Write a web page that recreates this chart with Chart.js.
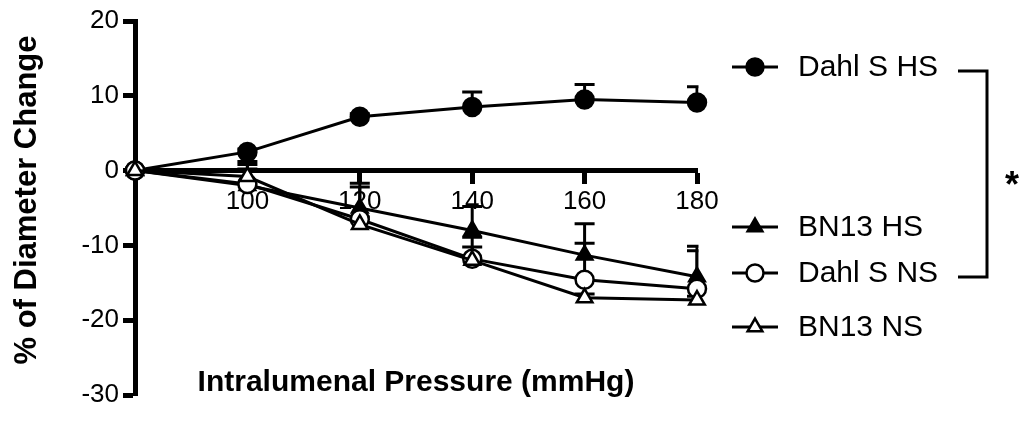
<!DOCTYPE html>
<html>
<head>
<meta charset="utf-8">
<script src="https://cdn.jsdelivr.net/npm/chart.js@4.4.1/dist/chart.umd.min.js"></script>
<style>
  html,body{margin:0;padding:0;background:#fff;}
  #wrap{width:1025px;height:422px;}
</style>
</head>
<body>
<div id="wrap"><canvas id="c" width="1025" height="422"></canvas></div>
<script>
// ---- data ----
const pressures   = [80, 100, 120, 140, 160, 180];
const xTickLabels = [100, 120, 140, 160, 180];
const yTickLabels = [-30, -20, -10, 0, 10, 20];
const seriesNames = ['Dahl S HS', 'BN13 HS', 'Dahl S NS', 'BN13 NS'];
const dahlSHS     = [0, 2.5, 7.2, 8.5, 9.5, 9.1];
const dahlSHSErr  = [0, 0.4, 0.4, 2.0, 2.0, 2.1];
const bn13HS      = [0, -2.0, -5.0, -8.0, -11.3, -14.2];
const bn13HSErr   = [0, 3.2, 2.8, 3.2, 4.2, 4.1];
const dahlSNS     = [0, -1.8, -6.5, -11.8, -14.6, -15.8];
const dahlSNSErr  = [0, 2.6, 4.8, 1.6, 4.9, 5.1];
const bn13NS      = [0, -0.8, -7.2, -12.0, -17.0, -17.3];
const bn13NSErr   = [0, 1.0, 1.0, 3.1, 0.5, 0.5];

const FONT = 'Arial, "Liberation Sans", sans-serif';
const values = [dahlSHS, bn13HS, dahlSNS, bn13NS];
const errors = [dahlSHSErr, bn13HSErr, dahlSNSErr, bn13NSErr];
const styles = [
  {pointStyle: 'circle',   fill: '#000'},
  {pointStyle: 'triangle', fill: '#000'},
  {pointStyle: 'circle',   fill: '#fff'},
  {pointStyle: 'triangle', fill: '#fff'}
];

const datasets = seriesNames.map((name, i) => ({
  label: name,
  data: pressures.map((p, j) => ({x: p, y: values[i][j]})),
  borderColor: '#000',
  borderWidth: 3,
  backgroundColor: styles[i].fill,
  pointBackgroundColor: styles[i].fill,
  pointBorderColor: '#000',
  pointBorderWidth: 2.5,
  pointRadius: 9,
  pointStyle: styles[i].pointStyle,
  tension: 0,
  fill: false,
  clip: false,
  order: 3 - i
}));

const errorBarPlugin = {
  id: 'errorBars',
  beforeDatasetsDraw(chart) {
    const ctx = chart.ctx, xs = chart.scales.x, ys = chart.scales.y;
    const area = chart.chartArea;
    ctx.save();
    ctx.beginPath();
    ctx.rect(0, 0, area.right + 1.5, chart.height);
    ctx.clip();
    ctx.strokeStyle = '#000';
    ctx.lineWidth = 3;
    values.forEach((vals, i) => {
      vals.forEach((v, j) => {
        const e = errors[i][j];
        if (!e) return;
        const px = xs.getPixelForValue(pressures[j]);
        const py = ys.getPixelForValue(v);
        const pt = ys.getPixelForValue(v + e);
        ctx.beginPath();
        ctx.moveTo(px, py);
        ctx.lineTo(px, pt);
        ctx.moveTo(px - 10, pt);
        ctx.lineTo(px + 10, pt);
        ctx.stroke();
      });
    });
    ctx.restore();
  }
};

const decorPlugin = {
  id: 'decor',
  afterDraw(chart) {
    const ctx = chart.ctx, area = chart.chartArea;
    ctx.save();
    ctx.fillStyle = '#000';
    ctx.strokeStyle = '#000';
    // x-axis title
    ctx.font = 'bold 30px ' + FONT;
    ctx.textAlign = 'center';
    ctx.textBaseline = 'middle';
    ctx.fillText('Intralumenal Pressure (mmHg)', (area.left + area.right) / 2, 383);
    // y-axis title
    ctx.save();
    ctx.translate(27, 200);
    ctx.rotate(-Math.PI / 2);
    ctx.font = 'bold 31px ' + FONT;
    ctx.fillText('% of Diameter Change', 0, 0);
    ctx.restore();
    // legend
    const ly = [67, 227, 273, 327];
    seriesNames.forEach((name, i) => {
      const y = ly[i];
      ctx.lineWidth = 3;
      ctx.beginPath();
      ctx.moveTo(732, y);
      ctx.lineTo(778, y);
      ctx.stroke();
      ctx.fillStyle = styles[i].fill;
      ctx.lineWidth = 2.5;
      Chart.helpers.drawPoint(ctx, {pointStyle: styles[i].pointStyle, radius: 8.5, rotation: 0, borderWidth: 2.5}, 755, y);
      ctx.fillStyle = '#000';
      ctx.font = '30px ' + FONT;
      ctx.textAlign = 'left';
      ctx.textBaseline = 'middle';
      ctx.fillText(name, 798, y + 1);
    });
    // significance bracket
    ctx.lineWidth = 3;
    ctx.beginPath();
    ctx.moveTo(958, 71);
    ctx.lineTo(987, 71);
    ctx.lineTo(987, 277);
    ctx.lineTo(958, 277);
    ctx.stroke();
    ctx.font = 'bold 36px ' + FONT;
    ctx.textAlign = 'center';
    ctx.textBaseline = 'alphabetic';
    ctx.fillText('*', 1012, 197);
    ctx.restore();
  }
};

new Chart(document.getElementById('c'), {
  type: 'line',
  data: {datasets},
  options: {
    responsive: false,
    animation: false,
    devicePixelRatio: 1,
    layout: {padding: {left: 0, right: 328, top: 21, bottom: 27}},
    plugins: {legend: {display: false}, tooltip: {enabled: false}},
    scales: {
      x: {
        type: 'linear',
        min: 80, max: 180,
        position: {y: 0},
        border: {display: true, color: '#000', width: 5},
        grid: {display: true, drawOnChartArea: false, drawTicks: true, tickLength: 11, tickWidth: 5, tickColor: '#000', color: '#000'},
        afterBuildTicks(scale) {
          scale.ticks = [80].concat(xTickLabels).map(v => ({value: v}));
        },
        ticks: {
          color: '#000',
          font: {family: FONT, size: 26},
          padding: 5,
          maxRotation: 0,
          autoSkip: false,
          callback: v => xTickLabels.includes(v) ? String(v) : ''
        }
      },
      y: {
        type: 'linear',
        min: -30, max: 20,
        position: 'left',
        border: {display: true, color: '#000', width: 5},
        grid: {display: true, drawOnChartArea: false, drawTicks: true, tickLength: 12, tickWidth: 5, tickColor: '#000', color: '#000'},
        afterBuildTicks(scale) {
          scale.ticks = yTickLabels.map(v => ({value: v}));
        },
        afterFit(scale) { scale.width = 135; },
        ticks: {
          color: '#000',
          font: {family: FONT, size: 26},
          padding: 4,
          autoSkip: false,
          callback: v => String(v)
        }
      }
    }
  },
  plugins: [errorBarPlugin, decorPlugin]
});
</script>
</body>
</html>
